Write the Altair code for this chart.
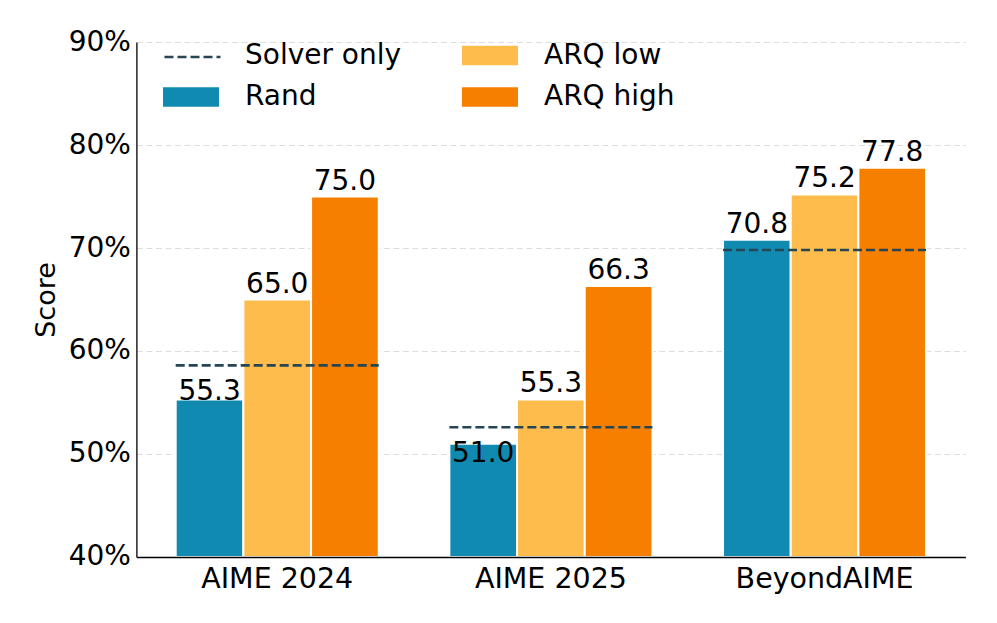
import altair as alt
import pandas as pd

groups = ["AIME 2024", "AIME 2025", "BeyondAIME"]
series = ["Rand", "ARQ low", "ARQ high"]
rand = [55.3, 51.0, 70.8]
arq_low = [65.0, 55.3, 75.2]
arq_high = [75.0, 66.3, 77.8]
solver_only = [58.6, 52.6, 69.8]
y_ticks = [40, 50, 60, 70, 80, 90]

legend_order = ["Solver only", "Rand", "ARQ low", "ARQ high"]
legend_colors = ["transparent", "#118AB2", "#FDBC4B", "#F77F00"]
solver_color = "#264653"
FONT = "DejaVu Sans"

rows = []
for gi, g in enumerate(groups):
    for s, vals in zip(series, [rand, arq_low, arq_high]):
        rows.append({"group": g, "series": s, "value": vals[gi], "solver": solver_only[gi]})
bars_df = pd.DataFrame(rows)
solver_df = pd.DataFrame({"group": groups, "solver": solver_only, "name": ["Solver only"] * 3})

x_scale = alt.Scale(domain=groups, paddingInner=0.258, paddingOuter=0.1436)
x_axis = alt.Axis(title=None, ticks=False, labelFont=FONT, labelFontSize=28.5, labelColor="black",
                  labelPadding=8, domainColor="black", domainWidth=1.3, labelAngle=0, zindex=1)
y_scale = alt.Scale(domain=[40, 90], nice=False, zero=False)
y_axis = alt.Axis(title="Score", values=y_ticks, labelExpr="datum.value + '%'", ticks=False,
                  labelFont=FONT, labelFontSize=28, labelColor="black", labelPadding=6,
                  titleFont=FONT, titleFontSize=27, titleFontWeight="normal", titleColor="black",
                  titlePadding=8, domainColor="black", domainWidth=1.3,
                  grid=True, gridColor="#dddddd", gridDash=[6, 3.5], gridWidth=1)

xoff = alt.XOffset("series:N", sort=series, scale=alt.Scale(domain=series, paddingInner=0, paddingOuter=0))

bars = alt.Chart(bars_df).mark_bar(stroke="white", strokeWidth=2).encode(
    x=alt.X("group:N", scale=x_scale, axis=x_axis, sort=groups),
    xOffset=xoff,
    y=alt.Y("value:Q", scale=y_scale, axis=y_axis),
    y2=alt.datum(40),
    color=alt.Color("series:N", scale=alt.Scale(domain=legend_order, range=legend_colors),
                    legend=alt.Legend(title=None, orient="none", legendX=40.6, legendY=-0.5,
                                      columns=2, symbolType="M-2,-0.7H2V0.7H-2Z", symbolSize=784,
                                      symbolStrokeWidth=0, symbolOpacity=1,
                                      labelFont=FONT, labelFontSize=28, labelColor="black",
                                      labelOffset=40, columnPadding=60, rowPadding=13.5, padding=0)),
)

rule = alt.Chart(solver_df).mark_rule(color=solver_color, strokeWidth=2.6).encode(
    x=alt.X("group:N", scale=x_scale, sort=groups, bandPosition=0),
    x2=alt.X2("group:N", bandPosition=1),
    y=alt.Y("solver:Q", scale=y_scale),
    strokeDash=alt.StrokeDash("name:N", scale=alt.Scale(domain=["Solver only"], range=[[9, 4]]),
                              legend=alt.Legend(title=None, orient="none", legendX=40.6, legendY=-0.5,
                                                symbolType="M-2,0H2", symbolSize=784,
                                                symbolStrokeColor=solver_color, symbolStrokeWidth=2.6,
                                                symbolFillColor="transparent", symbolDash=[9, 4],
                                                labelExpr="''", labelFontSize=28, padding=0)),
)

labels_up = alt.Chart(bars_df).transform_filter("datum.value >= datum.solver").mark_text(
    font=FONT, fontSize=28, color="black", align="center", baseline="alphabetic", dy=-7
).encode(
    x=alt.X("group:N", scale=x_scale, sort=groups),
    xOffset=xoff,
    y=alt.Y("value:Q", scale=y_scale),
    text=alt.Text("value:Q", format=".1f"),
)

labels_down = alt.Chart(bars_df).transform_filter("datum.value < datum.solver").mark_text(
    font=FONT, fontSize=28, color="black", align="center", baseline="alphabetic", dy=35
).encode(
    x=alt.X("group:N", scale=x_scale, sort=groups),
    xOffset=xoff,
    y=alt.Y("solver:Q", scale=y_scale),
    text=alt.Text("value:Q", format=".1f"),
)

chart = alt.layer(bars, rule, labels_up, labels_down).properties(
    width=829, height=515,
    autosize=alt.AutoSizeParams(type="none"),
    padding={"left": 128.4, "top": 34, "right": 20, "bottom": 40},
    background="white",
).configure_view(stroke=None)

chart.save("out.html", embed_options={"renderer": "svg", "actions": False})
